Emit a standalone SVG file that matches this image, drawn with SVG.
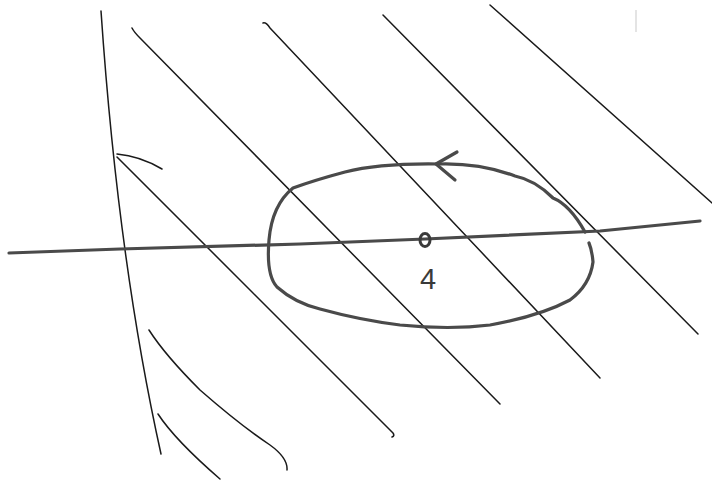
<svg xmlns="http://www.w3.org/2000/svg" width="712" height="481" viewBox="0 0 712 481">
<style>
.thin{fill:none;stroke:#1a1a1a;stroke-width:1.5;stroke-linecap:round;stroke-linejoin:round}
.thick{fill:none;stroke:#4a4a4a;stroke-width:3.2;stroke-linecap:round;stroke-linejoin:round}
.lbl{font-family:"Liberation Sans",Arial,sans-serif;font-size:29px;fill:#3a3a3a}
</style>
<rect width="712" height="481" fill="#fff"/>
<g id="hatching">
<path class="thin" d="M101,11 Q118,260 161,454"/>
<path class="thin" d="M117,154 Q140,156 162,169"/>
<path class="thin" d="M132,28 Q134,32 140,38 L500,404"/>
<path class="thin" d="M117,157 L393,433 Q395,436 392,437"/>
<path class="thin" d="M263,23 Q266,22 270,28 L600,378"/>
<path class="thin" d="M383,15 L698,334"/>
<path class="thin" d="M490,5 L712,203"/>
<path class="thin" d="M149,330 Q165,355 200,390 Q240,425 270,445 Q288,458 287,470"/>
<path class="thin" d="M158,414 Q175,440 220,479"/>
</g>
<g id="axis">
<path class="thick" d="M9,253 L120,249 L300,244 L425,239 L600,231 L700,221"/>
</g>
<g id="orbit">
<path class="thick" d="M585,232 Q570,205 553,198 Q535,180 515,176 Q480,163 440,164 Q380,163 345,172 Q315,180 293,188 Q272,205 269,240 Q266,275 277,287 Q295,303 320,309 Q360,320 400,325 Q450,330 490,325 Q540,316 570,300 Q590,285 593,262 Q592,250 589,243"/>
<path class="thick" d="M457,152 L436,164 L455,180"/>
</g>
<g id="point">
<ellipse cx="425" cy="240" rx="5" ry="6.5" fill="none" stroke="#3a3a3a" stroke-width="3"/>
<text class="lbl" x="428" y="289" text-anchor="middle">4</text>
</g>
<path d="M636,10 L636,32" stroke="#e4e4e4" stroke-width="2" fill="none"/>
</svg>
